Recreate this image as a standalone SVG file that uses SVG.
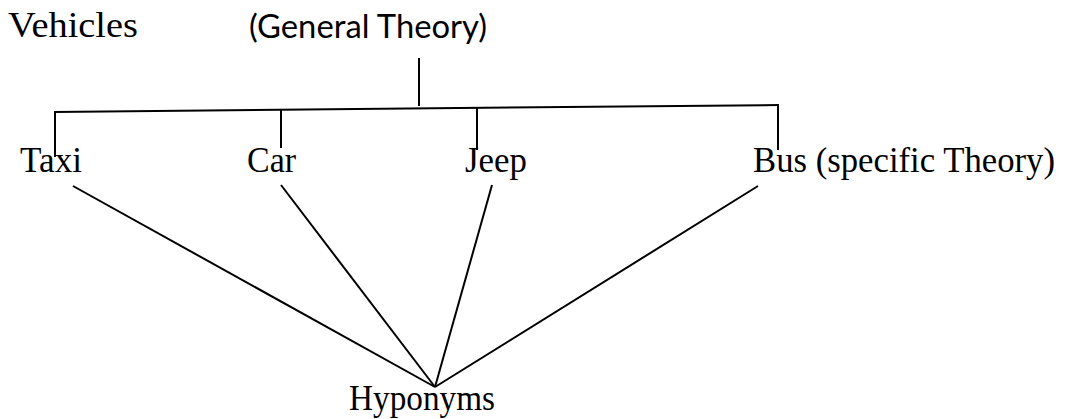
<svg xmlns="http://www.w3.org/2000/svg" width="1066" height="419" viewBox="0 0 1066 419">
<style>
.t{font-family:"Liberation Serif","Times New Roman",serif;font-size:36px;fill:#000}
.s{font-family:Lato,"Liberation Sans",sans-serif;font-size:33px;fill:#000}
.c line{stroke:#000;stroke-width:2;stroke-linecap:butt}
</style>
<rect width="1066" height="419" fill="#fff"/>
<g id="vehicles"><text class="t" x="8" y="37" textLength="130" lengthAdjust="spacingAndGlyphs">Vehicles</text></g>
<g id="general"><text class="s" x="249" y="38" textLength="238" lengthAdjust="spacingAndGlyphs">(General Theory)</text></g>
<g id="taxi"><text class="t" x="20" y="172" textLength="62" lengthAdjust="spacingAndGlyphs">Taxi</text></g>
<g id="car"><text class="t" x="247" y="172" textLength="49" lengthAdjust="spacingAndGlyphs">Car</text></g>
<g id="jeep"><text class="t" x="465" y="172" textLength="62" lengthAdjust="spacingAndGlyphs">Jeep</text></g>
<g id="bus"><text class="t" x="753" y="172" textLength="302" lengthAdjust="spacingAndGlyphs">Bus (specific Theory)</text></g>
<g id="hyponyms"><text class="t" x="349" y="410" textLength="146" lengthAdjust="spacingAndGlyphs">Hyponyms</text></g>
<g id="connectors" class="c">
<line x1="419" y1="58" x2="419" y2="106"/>
<line x1="54" y1="112" x2="779" y2="105"/>
<line x1="55" y1="112" x2="55" y2="157"/>
<line x1="281" y1="110" x2="281" y2="148"/>
<line x1="477" y1="108" x2="477" y2="150"/>
<line x1="778" y1="105" x2="778" y2="150"/>
<line x1="73" y1="186" x2="435" y2="387"/>
<line x1="281" y1="185" x2="435" y2="387"/>
<line x1="492" y1="185" x2="435" y2="387"/>
<line x1="758" y1="186" x2="435" y2="387"/>
</g>
</svg>
